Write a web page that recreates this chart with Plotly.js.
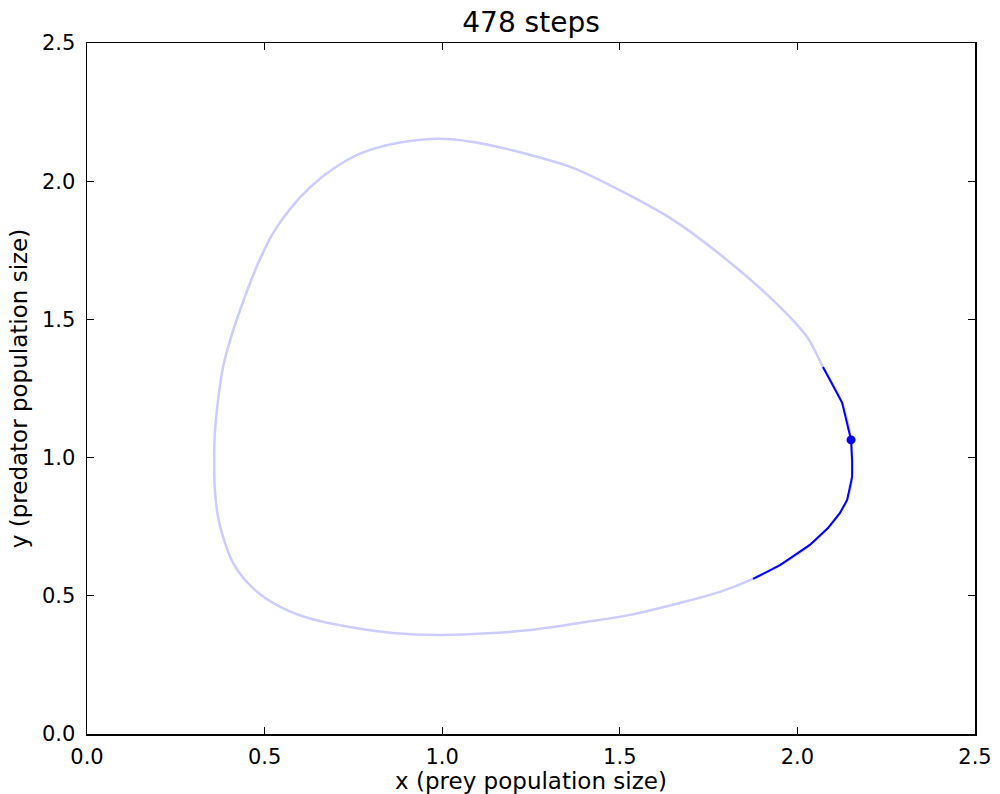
<!DOCTYPE html>
<html>
<head>
<meta charset="utf-8">
<script src="https://cdn.plot.ly/plotly-3.0.1.min.js"></script>
<style>html,body{margin:0;padding:0;background:#fff;}#chart{width:1000px;height:794px;}</style>
</head>
<body>
<div id="chart"></div>
<script>
// Full orbit (light trail)
const orbitX = [2.151, 2.126, 2.072, 2.027, 1.931, 1.791, 1.650, 1.509, 1.368, 1.227, 1.087, 0.994, 0.881, 0.769, 0.693, 0.628, 0.572, 0.524, 0.487, 0.459, 0.431, 0.403, 0.383, 0.369, 0.360, 0.358, 0.360, 0.369, 0.383, 0.411, 0.445, 0.490, 0.557, 0.633, 0.740, 0.861, 0.994, 1.143, 1.247, 1.388, 1.529, 1.669, 1.782, 1.875, 1.951, 2.035, 2.086, 2.120, 2.140, 2.154, 2.154, 2.151];
const orbitY = [1.064, 1.198, 1.328, 1.437, 1.570, 1.726, 1.860, 1.961, 2.048, 2.102, 2.142, 2.154, 2.140, 2.100, 2.045, 1.978, 1.900, 1.813, 1.718, 1.632, 1.534, 1.425, 1.328, 1.208, 1.089, 1.002, 0.883, 0.785, 0.713, 0.619, 0.557, 0.503, 0.452, 0.416, 0.387, 0.365, 0.358, 0.365, 0.376, 0.402, 0.431, 0.474, 0.514, 0.561, 0.611, 0.684, 0.745, 0.800, 0.847, 0.930, 0.990, 1.064];
// Recent steps (dark segment)
const recentX = [1.875, 1.951, 2.035, 2.086, 2.120, 2.140, 2.154, 2.154, 2.151, 2.126, 2.072];
const recentY = [0.561, 0.611, 0.684, 0.745, 0.800, 0.847, 0.930, 0.990, 1.064, 1.198, 1.328];
// Current state
const currentX = [2.151];
const currentY = [1.064];
const titleText = "478 steps";
const tickVals = [0.0, 0.5, 1.0, 1.5, 2.0, 2.5];
const tickText = ["0.0", "0.5", "1.0", "1.5", "2.0", "2.5"];

const FAM = "DejaVu Sans, sans-serif";
const tickFont = {family: FAM, size: 21, color: "#000"};
const labelFont = {family: FAM, size: 23, color: "#000"};
const axisCommon = {
  range: [0, 2.5], tickvals: tickVals, ticktext: tickText,
  showgrid: false, zeroline: false, showline: true, linecolor: "#000", linewidth: 1.5,
  mirror: "ticks", ticks: "inside", ticklen: 7, tickwidth: 1, tickcolor: "#000",
  tickfont: tickFont, fixedrange: true
};
const data = [
  {x: orbitX, y: orbitY, mode: "lines", line: {color: "#ccccff", width: 2.5, shape: "spline", smoothing: 0.8}, hoverinfo: "skip"},
  {x: recentX, y: recentY, mode: "lines", line: {color: "#0000ff", width: 2}, hoverinfo: "skip"},
  {x: currentX, y: currentY, mode: "markers", marker: {color: "#0000ff", size: 9}, hoverinfo: "skip"}
];
const layout = {
  width: 1000, height: 794, showlegend: false,
  paper_bgcolor: "#fff", plot_bgcolor: "#fff",
  margin: {l: 87, r: 25, t: 43, b: 60},
  title: {text: titleText, font: {family: FAM, size: 28, color: "#000"}, x: 0.531, xanchor: "center", y: 0.972, yanchor: "middle"},
  xaxis: Object.assign({}, axisCommon, {ticklabelstandoff: 3, title: {text: "x (prey population size)", font: labelFont, standoff: 4}}),
  yaxis: Object.assign({}, axisCommon, {ticklabelstandoff: 6, title: {text: "y (predator population size)", font: labelFont, standoff: 8}})
};
Plotly.newPlot("chart", data, layout, {displayModeBar: false, staticPlot: true});
</script>
</body>
</html>
